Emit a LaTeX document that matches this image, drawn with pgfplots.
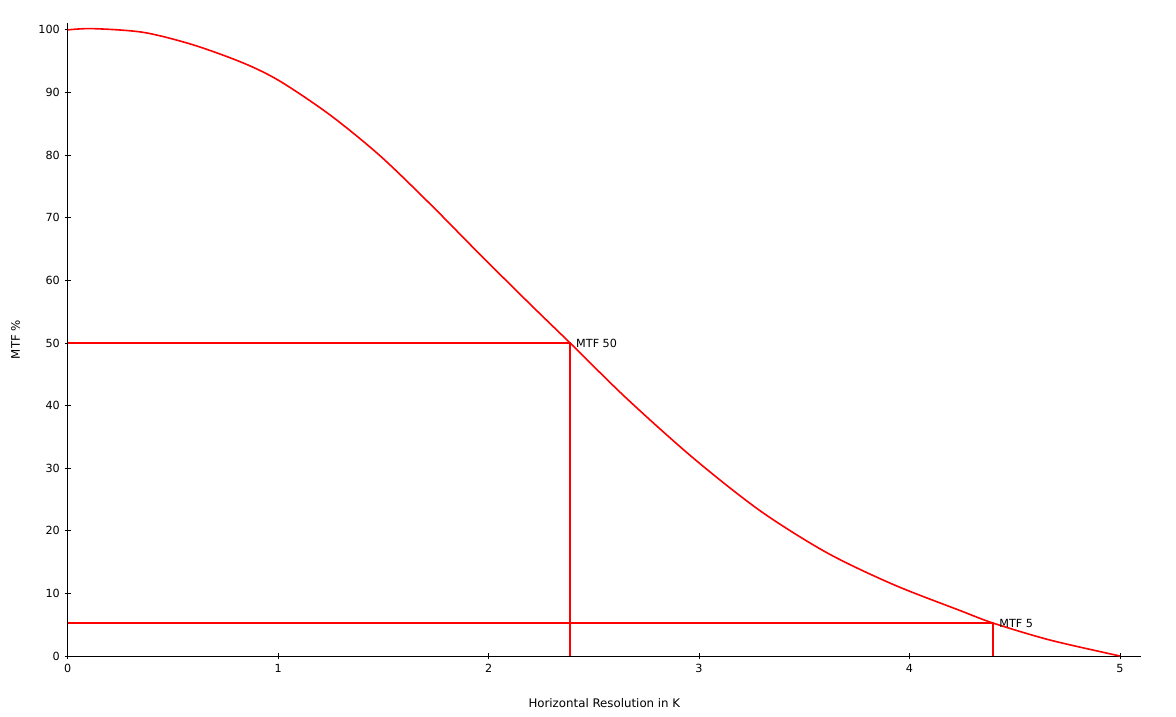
\documentclass[border=0pt]{standalone}
\usepackage{fontspec}
\setmainfont{DejaVu Sans}
\usepackage{pgfplots}
\pgfplotsset{compat=1.18}
\begin{document}
\fontsize{11pt}{13pt}\selectfont
\begin{tikzpicture}
\useasboundingbox (-67.7pt,-61pt) rectangle (1108.3pt,656pt);
\begin{axis}[
  at={(0,0)}, anchor=south west,
  scale only axis,
  width=1073.3pt, height=633pt,
  xmin=0, xmax=5.1, ymin=0, ymax=101.1,
  axis x line=bottom, axis y line=left,
  axis line style={-, black, line width=0.9pt},
  xtick={0,1,2,3,4,5}, ytick={0,10,20,30,40,50,60,70,80,90,100},
  tick align=center, major tick length=6pt,
  tick style={black, line width=0.8pt},
  /pgf/number format/assume math mode=true,
  ticklabel style={font=\fontsize{11.2pt}{13pt}\selectfont},
  xticklabel style={yshift=-1pt},
  yticklabel style={xshift=-1pt},
  xlabel={Horizontal Resolution in K},
  ylabel={MTF \%},
  label style={font=\fontsize{11.8pt}{13pt}\selectfont},
  xlabel style={at={(axis description cs:0.5,0)}, anchor=center, yshift=-47pt},
  ylabel style={at={(axis description cs:0,0.5)}, anchor=center, yshift=52pt},
  clip=false,
]
\addplot[red, line width=1.6pt, smooth] coordinates {
 (0,100.0) (0.12,100.2) (0.36,99.6) (0.597,97.6) (0.835,94.7) (1.009,91.8)
 (1.247,86.4) (1.484,79.9) (1.722,72.2) (1.960,64.1) (2.197,56.2)
 (2.387,50.0) (2.657,41.1) (2.973,31.6) (3.290,23.2) (3.607,16.5)
 (3.924,11.4) (4.241,7.25) (4.398,5.25) (4.667,2.55) (5.0,0)
};
\addplot[red, line width=1.9pt] coordinates {(0,50) (2.387,50) (2.387,0)};
\addplot[red, line width=1.9pt] coordinates {(0,5.2) (4.398,5.2) (4.398,0)};
\node[anchor=west, inner sep=0pt, xshift=6pt, font=\fontsize{11.2pt}{13pt}\selectfont] at (axis cs:2.387,50) {MTF 50};
\node[anchor=west, inner sep=0pt, xshift=6pt, font=\fontsize{11.2pt}{13pt}\selectfont] at (axis cs:4.398,5.2) {MTF 5};
\end{axis}
\end{tikzpicture}
\end{document}
